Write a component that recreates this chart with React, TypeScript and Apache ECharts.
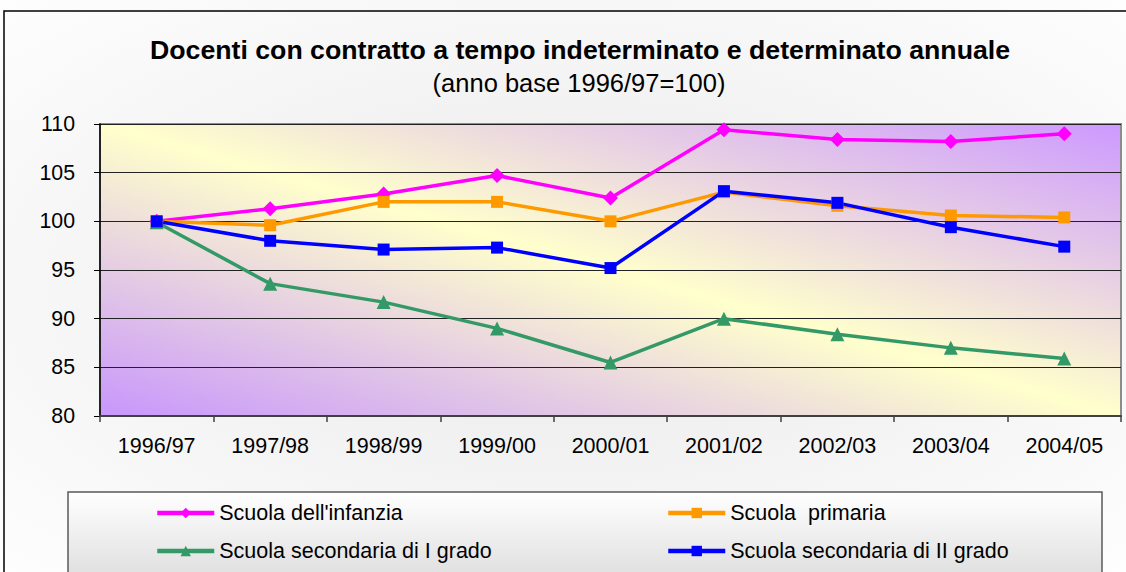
import React, { useEffect, useRef } from "react";
import * as echarts from "echarts";

const categories = ["1996/97", "1997/98", "1998/99", "1999/00", "2000/01", "2001/02", "2002/03", "2003/04", "2004/05"];
const infanzia = [100, 101.3, 102.8, 104.7, 102.4, 109.4, 108.4, 108.2, 109.0];
const primaria = [100, 99.6, 102.0, 102.0, 100.0, 103.0, 101.6, 100.6, 100.4];
const secondariaI = [99.9, 93.6, 91.7, 89.0, 85.5, 90.0, 88.4, 87.0, 85.9];
const secondariaII = [100, 98.0, 97.1, 97.3, 95.2, 103.1, 101.9, 99.4, 97.4];
const yTicks = { min: 80, max: 110, interval: 5 };

const seriesNames = [
  "Scuola dell'infanzia",
  "Scuola  primaria",
  "Scuola secondaria di I grado",
  "Scuola secondaria di II grado",
];

const FONT = "'Liberation Sans', Arial, sans-serif";

export default function App() {
  const ref = useRef<HTMLDivElement>(null);
  useEffect(() => {
    if (!ref.current) return;
    const chart = echarts.init(ref.current, null, { renderer: "svg" });
    const mk = (name: string, data: number[], color: string, symbol: string, size: number) => ({
      name,
      type: "line",
      data,
      symbol,
      symbolSize: size,
      lineStyle: { color, width: 3.5 },
      itemStyle: { color },
      z: 3,
    });
    const legendCommon = {
      orient: "vertical",
      top: 497,
      itemWidth: 57,
      itemHeight: 13,
      itemGap: 16,
      lineStyle: { width: 4.5 },
      textStyle: { fontFamily: FONT, fontSize: 21.5, color: "#000" },
      z: 5,
    };
    chart.setOption({
      animation: false,
      backgroundColor: {
        type: "radial",
        x: 0.5,
        y: 0.5,
        r: 0.75,
        colorStops: [
          { offset: 0, color: "#E9E9E9" },
          { offset: 1, color: "#FFFFFF" },
        ],
      },
      textStyle: { fontFamily: FONT },
      title: [
        {
          text: "Docenti con contratto a tempo indeterminato e determinato annuale",
          left: 575,
          textAlign: "center",
          top: 31,
          textStyle: { fontFamily: FONT, fontWeight: "bold", fontSize: 26.7, color: "#000" },
        },
        {
          text: "(anno base 1996/97=100)",
          left: 574,
          textAlign: "center",
          top: 65,
          textStyle: { fontFamily: FONT, fontWeight: "normal", fontSize: 25.5, color: "#000" },
        },
      ],
      graphic: [
        {
          type: "rect",
          shape: { x: 4, y: 11, width: 1200, height: 700 },
          style: { fill: "none", stroke: "#000", lineWidth: 1.5 },
          z: -1,
        },
        {
          type: "rect",
          shape: { x: 68, y: 492, width: 1034, height: 120 },
          style: {
            fill: {
              type: "linear",
              x: 0,
              y: 0,
              x2: 0,
              y2: 1,
              colorStops: [
                { offset: 0, color: "#FFFFFF" },
                { offset: 1, color: "#D2D2D2" },
              ],
            },
            stroke: "#5A5A5A",
            lineWidth: 1.5,
          },
          z: 0,
        },
      ],
      legend: [
        { ...legendCommon, data: [seriesNames[0], seriesNames[2]], left: 150 },
        { ...legendCommon, data: [seriesNames[1], seriesNames[3]], left: 661 },
      ],
      grid: {
        left: 100,
        right: 5,
        top: 124,
        bottom: 156,
        show: true,
        borderColor: "#8C8C8C",
        borderWidth: 2,
        backgroundColor: {
          type: "linear",
          x: 0,
          y: 1,
          x2: 1,
          y2: 0,
          colorStops: [
            { offset: 0, color: "#C896FC" },
            { offset: 0.5, color: "#FFFFCC" },
            { offset: 1, color: "#CC99FF" },
          ],
        },
      },
      xAxis: {
        type: "category",
        data: categories,
        boundaryGap: true,
        axisLine: { lineStyle: { color: "#404040", width: 2 } },
        axisTick: { show: true, length: 6, lineStyle: { color: "#404040", width: 1.5 } },
        axisLabel: { color: "#000", fontSize: 21.5, fontFamily: FONT, margin: 19 },
        splitLine: { show: false },
      },
      yAxis: {
        type: "value",
        min: yTicks.min,
        max: yTicks.max,
        interval: yTicks.interval,
        axisLine: { show: true, lineStyle: { color: "#000", width: 1.5 } },
        axisTick: { show: true, length: 6, lineStyle: { color: "#000", width: 1 } },
        axisLabel: { color: "#000", fontSize: 21.3, fontFamily: FONT, margin: 25 },
        splitLine: { show: true, lineStyle: { color: "#222", width: 1 } },
      },
      series: [
        mk(seriesNames[0], infanzia, "#FF00FF", "diamond", 15),
        mk(seriesNames[1], primaria, "#FF9900", "rect", 12),
        mk(seriesNames[2], secondariaI, "#339966", "triangle", 14),
        mk(seriesNames[3], secondariaII, "#0000FF", "rect", 12),
      ],
    });
    return () => chart.dispose();
  }, []);
  return <div ref={ref} style={{ position: "absolute", left: 0, top: 0, width: 1126, height: 572 }} />;
}
